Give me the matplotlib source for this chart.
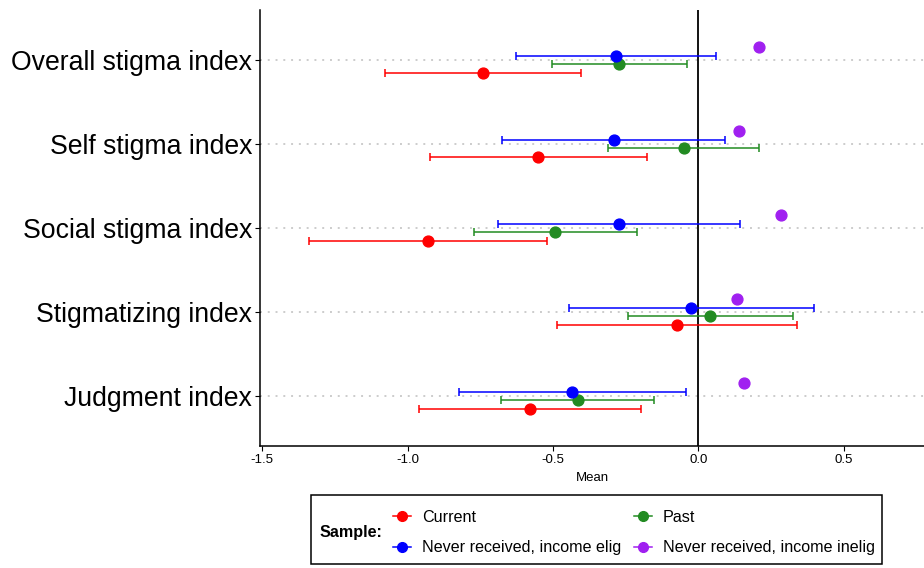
import matplotlib
matplotlib.use("Agg")
import matplotlib.pyplot as plt
import numpy as np
from matplotlib.lines import Line2D
from matplotlib.patches import Rectangle

plt.rcParams['font.family'] = ['Liberation Sans', 'DejaVu Sans']

# categories listed top to bottom
categories = ["Overall stigma index", "Self stigma index", "Social stigma index",
              "Stigmatizing index", "Judgment index"]

current_mean = [-0.74, -0.55, -0.93, -0.074, -0.58]
current_lo = [-1.078, -0.924, -1.337, -0.487, -0.96]
current_hi = [-0.403, -0.177, -0.522, 0.339, -0.199]

past_mean = [-0.272, -0.051, -0.492, 0.041, -0.415]
past_lo = [-0.504, -0.31, -0.773, -0.243, -0.68]
past_hi = [-0.039, 0.208, -0.21, 0.326, -0.153]

elig_mean = [-0.283, -0.292, -0.273, -0.026, -0.434]
elig_lo = [-0.628, -0.675, -0.689, -0.446, -0.823]
elig_hi = [0.061, 0.091, 0.142, 0.396, -0.044]

inelig_mean = [0.209, 0.139, 0.282, 0.132, 0.157]

series = [
    ("Current", "#FF0000", current_mean, current_lo, current_hi, -0.15),
    ("Past", "#228B22", past_mean, past_lo, past_hi, -0.05),
    ("Never received, income elig", "#0000FF", elig_mean, elig_lo, elig_hi, 0.05),
    ("Never received, income inelig", "#A020F0", inelig_mean, None, None, 0.15),
]

fig = plt.figure(figsize=(9.24, 5.68), dpi=100)
ax = fig.add_axes([260 / 924, 1 - 446.4 / 568, 664 / 924, 436.8 / 568])

ypos = np.arange(len(categories), 0, -1)

for y in ypos:
    ax.axhline(y, color='#cccccc', lw=1.4, linestyle=(0, (1, 3)), zorder=0)
ax.axvline(0, color='black', lw=1.3, zorder=1)

for label, color, mean, lo, hi, off in series:
    mean = np.array(mean)
    yy = ypos + off
    if lo is not None:
        lo = np.array(lo)
        hi = np.array(hi)
        ax.errorbar(mean, yy, xerr=[mean - lo, hi - mean], fmt='none',
                    ecolor=color, elinewidth=1.1, capsize=2.6, capthick=1.1, zorder=2)
    ax.plot(mean, yy, 'o', color=color, markersize=7.8, zorder=3)

ax.set_xlim(-1.507, 0.775)
ax.set_ylim(0.4, 5.6)
ax.set_xticks([-1.5, -1.0, -0.5, 0.0, 0.5])
ax.set_xticklabels(["-1.5", "-1.0", "-0.5", "0.0", "0.5"])
ax.set_yticks(ypos)
ax.set_yticklabels(categories, fontsize=19.2, color='black')
ax.tick_params(axis='x', labelsize=9.5, length=3.6, width=0.8, pad=2, colors='black')
ax.tick_params(axis='y', length=3.6, width=0.8, pad=2)
ax.set_xlabel("Mean", fontsize=9.5, labelpad=4)

for s in ['top', 'right']:
    ax.spines[s].set_visible(False)
for s in ['left', 'bottom']:
    ax.spines[s].set_linewidth(1.1)

# legend box
fig.patches.append(Rectangle((311 / 924, 1 - 564 / 568), 571 / 924, 69 / 568,
                             transform=fig.transFigure, fill=False,
                             edgecolor='black', lw=1.1))
fig.text(320 / 924, 1 - 532 / 568, "Sample:", fontsize=11.6, fontweight='bold',
         ha='left', va='center')

handles = [Line2D([0], [0], color=c, marker='o', markersize=7, lw=1.1)
           for _, c, _, _, _, _ in series]
labels = [s[0] for s in series]
# reorder so that column-major fill gives Current/Past on first row
order = [0, 2, 1, 3]
fig.legend([handles[i] for i in order], [labels[i] for i in order], ncol=2,
           loc='center left', bbox_to_anchor=(393 / 924, 1 - 532.5 / 568),
           frameon=False, fontsize=11.6, handlelength=1.1, handletextpad=0.7,
           columnspacing=0.78, labelspacing=0.95, borderpad=0, borderaxespad=0)

fig.savefig("out.png", dpi=100)
